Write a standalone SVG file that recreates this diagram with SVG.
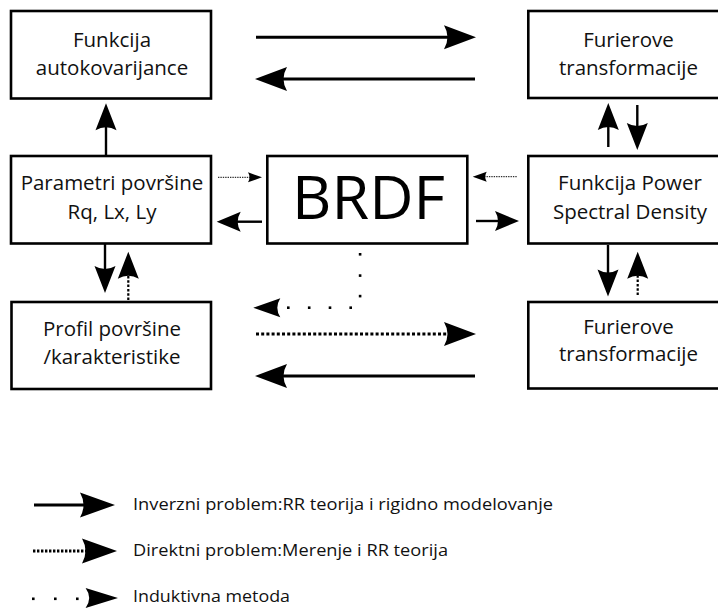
<svg xmlns="http://www.w3.org/2000/svg" width="718" height="611" viewBox="0 0 718 611">
  <style>
    .box { fill: #ffffff; stroke: #000000; stroke-width: 2.6; }
    .lbl { font-family: "Open Sans", "Noto Sans", sans-serif; font-size: 20.5px; fill: #111111; text-anchor: middle; }
    .big { font-family: "Open Sans", "Noto Sans", sans-serif; font-size: 61px; fill: #000000; text-anchor: middle; }
    .leg { font-family: "Open Sans", "Noto Sans", sans-serif; font-size: 15.6px; fill: #111111; }
    .solid { fill: none; stroke: #000000; stroke-width: 3; }
    .vsolid { fill: none; stroke: #000000; stroke-width: 2.4; }
    .dot { fill: none; stroke: #000000; stroke-width: 3; stroke-dasharray: 3 2.2; }
    .vdot { fill: none; stroke: #000000; stroke-width: 2.2; stroke-dasharray: 2.5 1.8; }
    .thin { fill: none; stroke: #000000; stroke-width: 1; stroke-dasharray: 1.4 1; }
    .head { fill: #000000; stroke: none; }
  </style>
  <defs>
    <!-- stealth-style arrowheads, tip at the origin pointing along +x -->
    <path id="hBig" d="M0,0 L-32,-12 Q-25,0 -32,12 Z"/>
    <path id="hLeg" d="M0,0 L-35,-12.5 Q-28,0 -35,12.5 Z"/>
    <path id="hMid" d="M0,0 L-24,-10 Q-18,0 -24,10 Z"/>
    <path id="hVert" d="M0,0 L-27,-10.5 Q-21,0 -27,10.5 Z"/>
    <path id="hInd" d="M0,0 L-27,-9.5 Q-21,0 -27,9.5 Z"/>
    <path id="hSmall" d="M0,0 L-14,-5 Q-11,0 -14,5 Z"/>
  </defs>

  <!-- nodes -->
  <g id="node-autokovarijanca">
    <rect class="box" x="11" y="11" width="200" height="87.5"/>
    <text class="lbl" x="112" y="47">Funkcija</text>
    <text class="lbl" x="112" y="75">autokovarijance</text>
  </g>
  <g id="node-furier-top">
    <rect class="box" x="528.3" y="11" width="200" height="87"/>
    <text class="lbl" x="628.5" y="47">Furierove</text>
    <text class="lbl" x="628.5" y="75">transformacije</text>
  </g>
  <g id="node-parametri">
    <rect class="box" x="11" y="156" width="200" height="87.5"/>
    <text class="lbl" x="112" y="190">Parametri površine</text>
    <text class="lbl" x="112" y="219">Rq, Lx, Ly</text>
  </g>
  <g id="node-brdf">
    <rect class="box" x="267.3" y="156" width="200" height="87.5"/>
    <text class="big" x="368.5" y="219">BRDF</text>
  </g>
  <g id="node-psd">
    <rect class="box" x="528.3" y="156" width="200" height="87.5"/>
    <text class="lbl" x="630" y="190">Funkcija Power</text>
    <text class="lbl" x="630" y="219">Spectral Density</text>
  </g>
  <g id="node-profil">
    <rect class="box" x="11.5" y="302" width="199.5" height="87"/>
    <text class="lbl" x="112" y="336">Profil površine</text>
    <text class="lbl" x="112" y="364">/karakteristike</text>
  </g>
  <g id="node-furier-bottom">
    <rect class="box" x="528.3" y="302" width="200" height="86.5"/>
    <text class="lbl" x="628.5" y="334">Furierove</text>
    <text class="lbl" x="628.5" y="361">transformacije</text>
  </g>

  <!-- connectors -->
  <g id="connectors">
    <!-- top row -->
    <line class="solid" x1="256" y1="37.3" x2="450" y2="37.3"/>
    <use href="#hBig" class="head" transform="translate(476,37.3)"/>
    <line class="solid" x1="475" y1="79" x2="280" y2="79"/>
    <use href="#hBig" class="head" transform="translate(255,79) rotate(180)"/>

    <!-- parametri up to autokovarijanca -->
    <line class="vsolid" x1="106" y1="156" x2="106" y2="125"/>
    <use href="#hVert" class="head" transform="translate(106,103.3) rotate(-90)"/>

    <!-- furier top / psd pair -->
    <line class="vsolid" x1="608.3" y1="147" x2="608.3" y2="125"/>
    <use href="#hVert" class="head" transform="translate(608.3,103) rotate(-90)"/>
    <line class="vsolid" x1="637.3" y1="105" x2="637.3" y2="128"/>
    <use href="#hVert" class="head" transform="translate(637.3,150) rotate(90)"/>

    <!-- middle row -->
    <line class="thin" x1="218" y1="177.3" x2="250" y2="177.3"/>
    <use href="#hSmall" class="head" transform="translate(262,177.3)"/>
    <line class="vsolid" x1="262" y1="221.7" x2="236" y2="221.7"/>
    <use href="#hMid" class="head" transform="translate(216.7,221.7) rotate(180)"/>
    <line class="vsolid" x1="476" y1="221" x2="500" y2="221"/>
    <use href="#hMid" class="head" transform="translate(519,221)"/>
    <line class="thin" x1="516.7" y1="176.7" x2="485" y2="176.7"/>
    <use href="#hSmall" class="head" transform="translate(472.7,176.7) rotate(180)"/>

    <!-- parametri / profil pair -->
    <line class="vsolid" x1="105" y1="244" x2="105" y2="272"/>
    <use href="#hVert" class="head" transform="translate(105,293) rotate(90)"/>
    <line class="vdot" x1="128.3" y1="300" x2="128.3" y2="272"/>
    <use href="#hVert" class="head" transform="translate(128.3,251.7) rotate(-90)"/>

    <!-- psd / furier bottom pair -->
    <line class="vsolid" x1="608" y1="245" x2="608" y2="274"/>
    <use href="#hVert" class="head" transform="translate(608,296.5) rotate(90)"/>
    <line class="vdot" x1="637.7" y1="295" x2="637.7" y2="272"/>
    <use href="#hVert" class="head" transform="translate(637.7,251.7) rotate(-90)"/>

    <!-- inductive path from BRDF down and left -->
    <g class="head">
      <rect x="358.8" y="253" width="2.6" height="2.6"/>
      <rect x="358.8" y="274.3" width="2.6" height="2.6"/>
      <rect x="358.8" y="294.8" width="2.6" height="2.6"/>
      <rect x="349.4" y="306.4" width="2.6" height="2.6"/>
      <rect x="328.7" y="306.4" width="2.6" height="2.6"/>
      <rect x="307.9" y="306.4" width="2.6" height="2.6"/>
      <rect x="287" y="306.4" width="2.6" height="2.6"/>
    </g>
    <use href="#hInd" class="head" transform="translate(253.3,307.7) rotate(180)"/>

    <!-- bottom row -->
    <line class="dot" x1="256" y1="334" x2="450" y2="334"/>
    <use href="#hBig" class="head" transform="translate(476,334)"/>
    <line class="solid" x1="475" y1="376" x2="280" y2="376"/>
    <use href="#hBig" class="head" transform="translate(255,376) rotate(180)"/>
  </g>

  <!-- legend -->
  <g id="legend">
    <line class="solid" x1="34" y1="505" x2="88" y2="505"/>
    <use href="#hLeg" class="head" transform="translate(115,505)"/>
    <text class="leg" x="133" y="510" textLength="420" lengthAdjust="spacingAndGlyphs">Inverzni problem:RR teorija i rigidno modelovanje</text>

    <line class="dot" x1="33" y1="551" x2="90" y2="551" style="stroke-dasharray: 2.4 1.6"/>
    <use href="#hLeg" class="head" transform="translate(117,551)"/>
    <text class="leg" x="133" y="556" textLength="315" lengthAdjust="spacingAndGlyphs">Direktni problem:Merenje i RR teorija</text>

    <g class="head">
      <rect x="32" y="597.5" width="2.6" height="2.6"/>
      <rect x="54" y="597.5" width="2.6" height="2.6"/>
      <rect x="76" y="597.5" width="2.6" height="2.6"/>
    </g>
    <use href="#hInd" class="head" transform="translate(118,598) scale(1.2,1.05)"/>
    <text class="leg" x="133" y="602" textLength="157" lengthAdjust="spacingAndGlyphs">Induktivna metoda</text>
  </g>
</svg>
